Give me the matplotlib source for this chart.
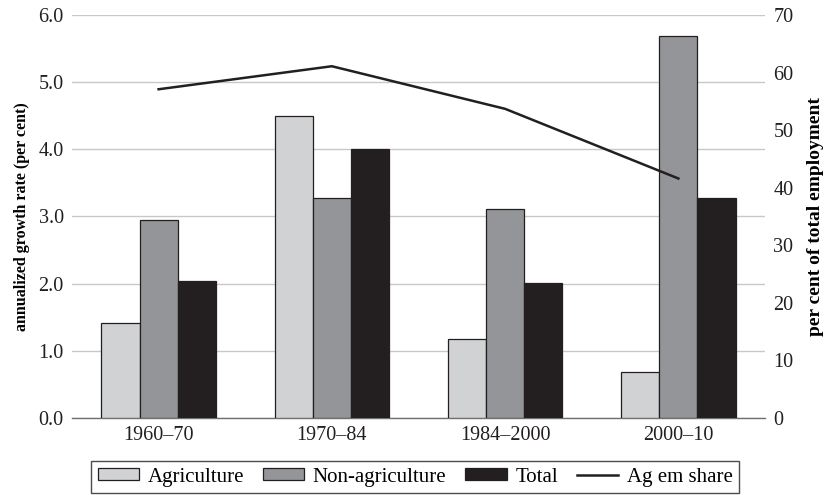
import numpy as np
import matplotlib.pyplot as plt

plt.rcParams['font.family'] = ['Liberation Serif', 'DejaVu Serif']

periods = ["1960–70", "1970–84", "1984–2000", "2000–10"]
agriculture = [1.41, 4.50, 1.17, 0.68]
non_agriculture = [2.95, 3.28, 3.11, 5.69]
total = [2.04, 4.00, 2.01, 3.28]
ag_em_share = [57.1, 61.1, 53.7, 41.6]

fig = plt.figure(figsize=(8.3, 4.95), dpi=100)
ax = fig.add_axes([0.0867, 0.1556, 0.835, 0.8141])
ax2 = ax.twinx()

x = np.arange(len(periods))
w = 0.22
edge = "#231f20"
b1 = ax.bar(x - w, agriculture, w, color="#d1d2d4", edgecolor=edge, linewidth=0.9, label="Agriculture", zorder=3)
b2 = ax.bar(x, non_agriculture, w, color="#939598", edgecolor=edge, linewidth=0.9, label="Non-agriculture", zorder=3)
b3 = ax.bar(x + w, total, w, color="#231f20", edgecolor=edge, linewidth=0.9, label="Total", zorder=3)
ln, = ax2.plot(x, ag_em_share, color="#231f20", linewidth=1.8, label="Ag em share")

ax.set_xlim(-0.5, 3.5)
ax.set_ylim(0, 6)
ax2.set_ylim(0, 70)
ax.set_yticks(np.arange(0, 6.1, 1.0))
ax.set_yticklabels([f"{v:.1f}" for v in np.arange(0, 6.1, 1.0)])
ax2.set_yticks(range(0, 71, 10))
ax.set_xticks(x)
ax.set_xticklabels(periods)

ax.grid(axis="y", color="#c8c8c8", linewidth=1.0, zorder=0)
ax.set_axisbelow(True)
for a in (ax, ax2):
    for s in ("top", "left", "right"):
        a.spines[s].set_visible(False)
    a.spines["bottom"].set_color("#707070")
    a.spines["bottom"].set_linewidth(1.0)
    a.tick_params(length=0, labelsize=14.5, colors="#231f20", pad=6)
ax2.spines["bottom"].set_visible(False)

ax.set_ylabel("annualized growth rate (per cent)", fontsize=11.5, fontweight="bold", labelpad=6)
ax2.set_ylabel("per cent of total employment", fontsize=14, fontweight="bold", labelpad=10)

leg = fig.legend(handles=[b1, b2, b3, ln], loc="lower center", bbox_to_anchor=(0.50, 0.0),
                 ncol=4, frameon=True, fancybox=False, fontsize=15, handlelength=2.0,
                 handleheight=0.5, columnspacing=0.9, handletextpad=0.4, borderpad=0.3,
                 borderaxespad=0.1)
leg.get_frame().set_edgecolor("#231f20")
leg.get_frame().set_linewidth(1.0)

fig.savefig("out.png", dpi=100)
